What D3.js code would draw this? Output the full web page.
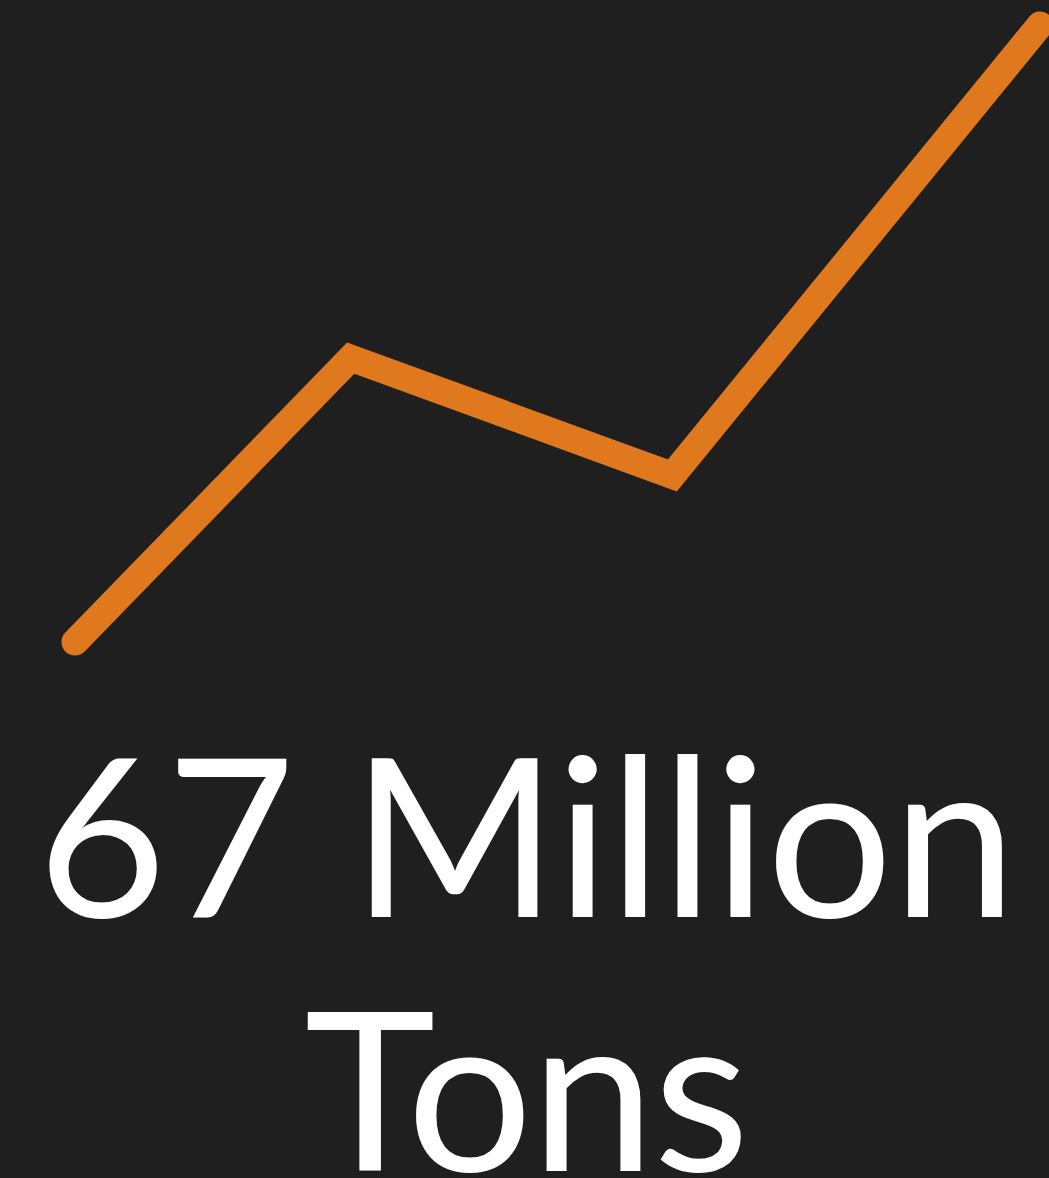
<!DOCTYPE html>
<html>
<head>
<meta charset="utf-8">
<script src="https://cdn.jsdelivr.net/npm/d3@7"></script>
<style>
  html, body { margin: 0; padding: 0; background: #1f1f1f; }
  svg { display: block; }
</style>
</head>
<body>
<div id="chart"></div>
<script>
// data
var years = [2000, 2006, 2013, 2021]
var values = [0, 46, 27, 100]
var labelLines = ["67 Million", "Tons"]
var labelWidths = [979, 445]   // widths the lines take in the reference

var width = 1049
var height = 1178

var svg = d3.select("#chart")
  .append("svg")
  .attr("width", width)
  .attr("height", height)

svg.append("rect")
  .attr("width", width)
  .attr("height", height)
  .attr("fill", "#1f1f1f")

var x = d3.scaleLinear()
  .domain(d3.extent(years))
  .range([75, 1040])

var y = d3.scaleLinear()
  .domain([0, 100])
  .range([642, 25])

var line = d3.line()
  .x(function (d, i) { return x(years[i]) })
  .y(function (d) { return y(d) })

svg.append("path")
  .datum(values)
  .attr("d", line)
  .attr("fill", "none")
  .attr("stroke", "#e0781e")
  .attr("stroke-width", 27)
  .attr("stroke-linecap", "round")
  .attr("stroke-linejoin", "miter")

// big label
var label = svg.append("g")
  .attr("font-family", "Lato, sans-serif")
  .attr("font-weight", 400)
  .attr("font-size", 222)
  .attr("fill", "#ffffff")
  .attr("text-anchor", "middle")

label.selectAll("text")
  .data(labelLines)
  .enter()
  .append("text")
  .attr("x", 527)
  .attr("y", function (d, i) { return 917 + i * 254 })
  .text(function (d) { return d })
  .each(function (d, i) {
    // spread letters so each line is as wide as in the reference
    var len = this.getComputedTextLength()
    var n = d.length - 1
    var ls = (labelWidths[i] - len) / n
    d3.select(this)
      .attr("letter-spacing", ls)
      .attr("x", 527 + ls / 2)
  })
</script>
</body>
</html>
